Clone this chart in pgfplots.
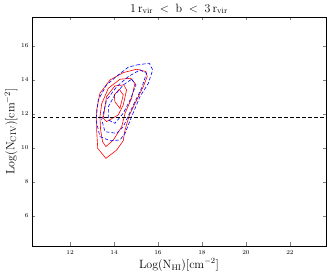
\documentclass[border=0pt]{standalone}
\usepackage{pgfplots}
\pgfplotsset{compat=1.18}
\usetikzlibrary{calc}
\begin{document}
\begin{tikzpicture}
\begin{axis}[
  scale only axis,
  width=294pt, height=229pt,
  xmin=10.27, xmax=23.64, ymin=4.24, ymax=17.7,
  xtick={12,14,16,18,20,22}, ytick={6,8,10,12,14,16},
  tick align=inside, tick pos=both,
  major tick length=3.5pt,
  tick label style={font=\fontsize{6}{7}\selectfont},
  xticklabel style={yshift=-1pt},
  every axis title shift=0pt,
  title={$1\,\mathrm{r_{vir}}\;<\;\mathrm{b}\;<\;3\,\mathrm{r_{vir}}$},
  title style={font=\fontsize{11.5}{13}\selectfont, at={(axis description cs:0.5,1.036)}, anchor=center},
  xlabel={$\mathrm{Log(N_{HI})[cm^{-2}]}$},
  ylabel={$\mathrm{Log(N_{CIV})[cm^{-2}]}$},
  label style={font=\fontsize{11.5}{13}\selectfont},
  xlabel style={at={(axis description cs:0.5,-0.083)}, anchor=center},
  ylabel style={at={(axis description cs:-0.0714,0.5)}, anchor=center, rotate=0},
  axis line style={line width=0.6pt},
]
% red solid contours
\addplot[red, line width=0.6pt] coordinates {
(13.63,9.39) (13.26,9.98) (13.21,11.06) (13.21,12.24) (13.36,13.22) (13.82,14.0) (14.42,14.43) (15.03,14.63) (15.45,14.49) (15.51,14.2) (15.33,13.6) (15.03,12.82) (14.7,11.94) (14.5,11.06) (14.47,10.86) (14.42,10.43) (14.12,9.88) (13.63,9.39)};
\addplot[red, line width=0.6pt] coordinates {
(13.63,10.08) (13.48,10.37) (13.39,11.06) (13.36,11.84) (13.44,12.6) (13.74,13.51) (14.27,14.04) (14.76,14.1) (14.95,13.8) (14.8,12.92) (14.5,12.04) (14.35,11.25) (13.97,10.47) (13.63,10.08)};
\addplot[red, line width=0.6pt] coordinates {
(13.66,11.55) (13.51,11.75) (13.66,13.02) (14.04,13.65) (14.45,13.71) (14.57,13.41) (14.42,12.53) (14.19,11.94) (13.66,11.55)};
\addplot[red, line width=0.6pt] coordinates {
(14.24,13.45) (14.42,13.12) (14.27,12.33) (14.04,12.72) (14.01,13.12) (14.24,13.45)};
% blue dashed contours
\addplot[blue, dash pattern=on 3.5pt off 2pt, line width=0.6pt] coordinates {
(15.03,14.88) (15.6,14.98) (15.76,14.59) (15.56,13.8) (15.18,13.02) (14.8,11.84) (14.5,10.86) (14.27,10.47) (13.82,10.43) (13.36,10.67) (13.18,11.65) (13.28,12.82) (13.66,13.71) (14.19,14.29) (14.65,14.75) (15.03,14.88)};
\addplot[blue, dash pattern=on 3.5pt off 2pt, line width=0.6pt] coordinates {
(15.18,14.59) (15.48,14.39) (15.25,13.51) (14.88,12.53) (14.42,11.25) (14.12,10.86) (13.59,10.96) (13.44,11.65) (13.66,12.82) (14.12,13.6) (14.65,14.2) (15.18,14.59)};
\addplot[blue, dash pattern=on 3.5pt off 2pt, line width=0.6pt] coordinates {
(14.8,14.04) (15.0,13.71) (14.73,12.82) (14.42,12.04) (14.04,11.45) (13.74,11.65) (13.74,12.43) (14.04,13.12) (14.42,13.71) (14.8,14.04)};
\addplot[black, dash pattern=on 3.5pt off 2.5pt, line width=0.6pt] coordinates {(10.27,11.8) (23.64,11.8)};
\end{axis}
\pgfresetboundingbox
\path ($(current axis.south west)+(-32pt,-32pt)$) rectangle ($(current axis.north east)+(6pt,17pt)$);
\end{tikzpicture}
\end{document}
